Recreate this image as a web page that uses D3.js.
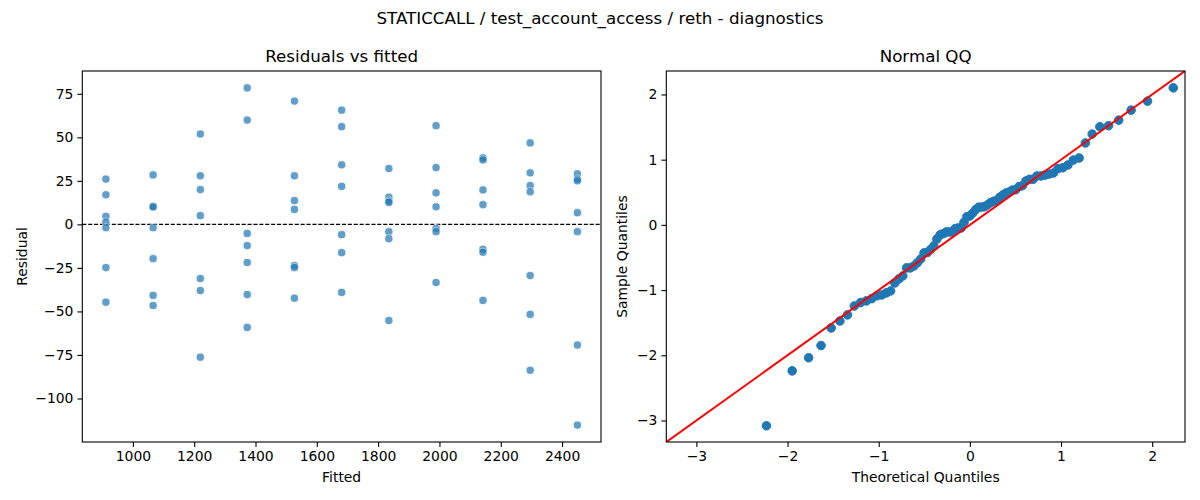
<!DOCTYPE html>
<html>
<head>
<meta charset="utf-8">
<script src="https://cdn.jsdelivr.net/npm/d3@7"></script>
<style>
  body { margin: 0; background: #fff; }
  svg { font-family: "DejaVu Sans", sans-serif; }
</style>
</head>
<body>
<svg width="1200" height="500"></svg>
<script>
// fitted levels (x of the left panel)
var fitted = [912, 1066, 1220, 1373, 1527, 1681, 1835, 1989, 2142, 2296, 2450];

// residuals for each fitted level, same order as fitted
var residuals = [
    [26, 17, 4.6, 1.3, -1.9, -24.8, -44.7],
    [28.4, 10.3, 10, -1.9, -19.7, -40.8, -46.6],
    [51.9, 27.9, 20, 5, -31.1, -38, -76.3],
    [78.4, 59.9, -5.2, -12.2, -21.9, -40.3, -59.2],
    [70.8, 27.9, 13.7, 8.6, -23.7, -24.8, -42.4],
    [65.6, 56.1, 34.2, 21.8, -5.9, -16.2, -39.1],
    [32.1, 15.6, 13.4, 12.6, -4.2, -8.2, -55.2],
    [56.7, 32.6, 18.1, 10.1, -2.3, -4.2, -33.4],
    [38.2, 37, 19.8, 11.3, -14.3, -16, -43.7],
    [46.8, 29.6, 22.3, 18.7, -29.4, -51.7, -83.8],
    [29, 26, 25, 6.7, -4.2, -69.3, -115.3]
];

var fittedTicks = [1000, 1200, 1400, 1600, 1800, 2000, 2200, 2400];
var residTicks = [-100, -75, -50, -25, 0, 25, 50, 75];
var qqTicks = [-3, -2, -1, 0, 1, 2];

var svg = d3.select("svg");

var left = {x0: 82.3, x1: 601, y0: 71, y1: 442},
    right = {x0: 666.3, x1: 1185, y0: 71, y1: 442};

var blue = "#1f77b4";

// flat list of points for the left panel
var points = [];
fitted.forEach(function(f, i) {
    residuals[i].forEach(function(r) { points.push({fitted: f, resid: r}); });
});

// normal quantile function (Acklam) for the QQ panel
function normInv(p) {
    var a = [-3.969683028665376e+01, 2.209460984245205e+02, -2.759285104469687e+02, 1.383577518672690e+02, -3.066479806614716e+01, 2.506628277459239e+00];
    var b = [-5.447609879822406e+01, 1.615858368580409e+02, -1.556989798598866e+02, 6.680131188771972e+01, -1.328068155288572e+01];
    var c = [-7.784894002430293e-03, -3.223964580411365e-01, -2.400758277161838e+00, -2.549732539343734e+00, 4.374664141464968e+00, 2.938163982698783e+00];
    var d = [7.784695709041462e-03, 3.224671290700398e-01, 2.445134137142996e+00, 3.754408661907416e+00];
    var q, r;
    if (p < 0.02425) {
        q = Math.sqrt(-2 * Math.log(p));
        return (((((c[0]*q+c[1])*q+c[2])*q+c[3])*q+c[4])*q+c[5]) / ((((d[0]*q+d[1])*q+d[2])*q+d[3])*q+1);
    }
    if (p > 1 - 0.02425) {
        q = Math.sqrt(-2 * Math.log(1 - p));
        return -(((((c[0]*q+c[1])*q+c[2])*q+c[3])*q+c[4])*q+c[5]) / ((((d[0]*q+d[1])*q+d[2])*q+d[3])*q+1);
    }
    q = p - 0.5; r = q * q;
    return (((((a[0]*r+a[1])*r+a[2])*r+a[3])*r+a[4])*r+a[5])*q / (((((b[0]*r+b[1])*r+b[2])*r+b[3])*r+b[4])*r+1);
}

// QQ points: standardized sorted residuals vs normal quantiles of i/(n+1)
var all = points.map(function(p) { return p.resid; }).sort(d3.ascending);
var n = all.length,
    mu = d3.mean(all),
    sd = Math.sqrt(d3.mean(all, function(v) { return (v - mu) * (v - mu); }));
var qq = all.map(function(v, i) {
    return {theo: normInv((i + 1) / (n + 1)), sample: (v - mu) / sd};
});

function frame(g, box) {
    g.append("rect")
        .attr("x", box.x0).attr("y", box.y0)
        .attr("width", box.x1 - box.x0).attr("height", box.y1 - box.y0)
        .attr("fill", "none").attr("stroke", "#000").attr("stroke-width", 1.1);
}

function axes(box, x, y, xt, yt) {
    var gx = svg.append("g")
        .attr("transform", "translate(0," + box.y1 + ")")
        .call(d3.axisBottom(x).tickValues(xt).tickSize(4.9).tickPadding(4).tickSizeOuter(0)
              .tickFormat(d3.format("d")));
    var gy = svg.append("g")
        .attr("transform", "translate(" + box.x0 + ",0)")
        .call(d3.axisLeft(y).tickValues(yt).tickSize(4.9).tickPadding(4).tickSizeOuter(0)
              .tickFormat(d3.format("d")));
    [gx, gy].forEach(function(g) {
        g.select(".domain").remove();
        g.selectAll(".tick line").attr("stroke", "#000").attr("stroke-width", 1.1);
        g.selectAll(".tick text").attr("fill", "#000")
            .style("font-size", "13.9px").style("font-family", "DejaVu Sans, sans-serif");
    });
}

function labels(box, title, xl, yl, yx) {
    var cx = (box.x0 + box.x1) / 2, cy = (box.y0 + box.y1) / 2;
    svg.append("text").attr("x", cx).attr("y", 62)
        .attr("text-anchor", "middle").style("font-size", "16.7px").text(title);
    svg.append("text").attr("x", cx).attr("y", 482)
        .attr("text-anchor", "middle").style("font-size", "13.9px").text(xl);
    svg.append("text")
        .attr("transform", "translate(" + yx + "," + cy + ") rotate(-90)")
        .attr("text-anchor", "middle").style("font-size", "13.9px").text(yl);
}

// ---- left: residuals vs fitted
var x1 = d3.scaleLinear().domain([835, 2527]).range([left.x0, left.x1]);
var y1 = d3.scaleLinear().domain([-125, 88.1]).range([left.y1, left.y0]);

axes(left, x1, y1, fittedTicks, residTicks);

svg.append("line")
    .attr("x1", left.x0).attr("x2", left.x1)
    .attr("y1", y1(0)).attr("y2", y1(0))
    .attr("stroke", "#000").attr("stroke-width", 1.1)
    .attr("stroke-dasharray", "4.1,1.8");

svg.append("g").selectAll("circle")
    .data(points)
  .enter().append("circle")
    .attr("cx", function(d) { return x1(d.fitted); })
    .attr("cy", function(d) { return y1(d.resid); })
    .attr("r", 4.1)
    .attr("fill", blue)
    .attr("stroke", "#fff")
    .attr("stroke-width", 0.7)
    .attr("opacity", 0.7);

frame(svg, left);
labels(left, "Residuals vs fitted", "Fitted", "Residual", 27);

// ---- right: normal QQ
var qdom = [-3.33, 2.36];
var x2 = d3.scaleLinear().domain(qdom).range([right.x0, right.x1]);
var y2 = d3.scaleLinear().domain(qdom).range([right.y1, right.y0]);

axes(right, x2, y2, qqTicks, qqTicks);

svg.append("defs").append("clipPath").attr("id", "clipR")
  .append("rect")
    .attr("x", right.x0).attr("y", right.y0)
    .attr("width", right.x1 - right.x0).attr("height", right.y1 - right.y0);

var plotR = svg.append("g").attr("clip-path", "url(#clipR)");

plotR.selectAll("circle")
    .data(qq)
  .enter().append("circle")
    .attr("cx", function(d) { return x2(d.theo); })
    .attr("cy", function(d) { return y2(d.sample); })
    .attr("r", 4.3)
    .attr("fill", blue)
    .attr("stroke", blue)
    .attr("stroke-width", 1);

plotR.append("line")
    .attr("x1", x2(qdom[0])).attr("y1", y2(qdom[0]))
    .attr("x2", x2(qdom[1])).attr("y2", y2(qdom[1]))
    .attr("stroke", "red").attr("stroke-width", 2);

frame(svg, right);
labels(right, "Normal QQ", "Theoretical Quantiles", "Sample Quantiles", 627);

// suptitle
svg.append("text").attr("x", 600).attr("y", 24)
    .attr("text-anchor", "middle").style("font-size", "16.7px")
    .text("STATICCALL / test_account_access / reth - diagnostics");
</script>
</body>
</html>
